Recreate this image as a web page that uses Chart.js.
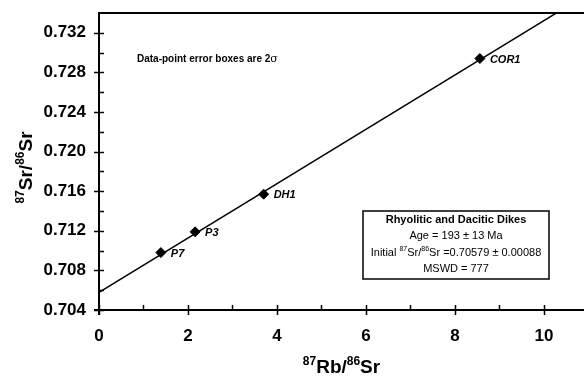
<!DOCTYPE html>
<html>
<head>
<meta charset="utf-8">
<script src="https://cdn.jsdelivr.net/npm/chart.js@4/dist/chart.umd.min.js"></script>
<style>
	body {margin: 0; background: #fff;}
	canvas {display: block;}
</style>
</head>
<body>
<canvas id="isochron" width="584" height="376"></canvas>
<script>
// Rb-Sr isochron, rhyolitic and dacitic dikes

var sampleNames = ['P7', 'P3', 'DH1', 'COR1'];
var rbSrValues = [1.39, 2.16, 3.70, 8.56];
var srSrValues = [0.7098, 0.7119, 0.7157, 0.7294];

// regression line end points
var isochronX = [0, 10.9];
var isochronY = [0.70579, 0.7357];

var xTickValues = [0, 1, 2, 3, 4, 5, 6, 7, 8, 9, 10];
var xTickLabels = ['0', '2', '4', '6', '8', '10'];
var yTickValues = [0.704, 0.706, 0.708, 0.710, 0.712, 0.714, 0.716, 0.718, 0.720, 0.722, 0.724, 0.726, 0.728, 0.730, 0.732];
var yTickLabels = ['0.704', '0.708', '0.712', '0.716', '0.720', '0.724', '0.728', '0.732'];

var boxLines = ['Rhyolitic and Dacitic Dikes', 'Age = 193 \u00b1 13 Ma', 'Initial {87}Sr/{86}Sr =0.70579 \u00b1 0.00088', 'MSWD = 777'];
var noteText = 'Data-point error boxes are 2';

var fontFamily = '"Liberation Sans", Arial, sans-serif';

// text with {..} parts drawn as superscript
function drawSupText(ctx, text, x, y, size, weight, align)
{
	var parts = [];
	var re = /\{([^}]*)\}|([^{]+)/g, m;
	while ((m = re.exec(text)) != null)
	{
		if (m[1] != undefined) {parts.push({t: m[1], sup: true})}
		else {parts.push({t: m[2], sup: false})}
	}

	var supSize = Math.round(size * 0.65);
	var width = 0;
	parts.forEach(function (p)
	{
		ctx.font = weight + ' ' + (p.sup ? supSize : size) + 'px ' + fontFamily;
		p.w = ctx.measureText(p.t).width;
		width += p.w;
	});

	var cx = x;
	if (align == 'center') {cx = x - width / 2}

	ctx.textAlign = 'left';
	ctx.textBaseline = 'alphabetic';
	parts.forEach(function (p)
	{
		ctx.font = weight + ' ' + (p.sup ? supSize : size) + 'px ' + fontFamily;
		ctx.fillText(p.t, cx, p.sup ? y - size * 0.42 : y);
		cx += p.w;
	});
}

var isochronDecor =
{
	id: 'isochronDecor',
	afterDraw: function (chart)
	{
		var ctx = chart.ctx;
		var area = chart.chartArea;
		var xs = chart.scales.x;
		var ys = chart.scales.y;

		ctx.save();
		ctx.strokeStyle = '#000';
		ctx.fillStyle = '#000';

		// axes and top border
		ctx.lineWidth = 2;
		ctx.beginPath();
		ctx.moveTo(area.left, area.top);
		ctx.lineTo(chart.width, area.top);
		ctx.moveTo(area.left, area.top - 1);
		ctx.lineTo(area.left, area.bottom + 5);
		ctx.moveTo(area.left - 5, area.bottom);
		ctx.lineTo(chart.width, area.bottom);
		ctx.stroke();

		// tick marks
		ctx.lineWidth = 1.5;
		ctx.beginPath();
		ys.ticks.forEach(function (tick)
		{
			var py = Math.round(ys.getPixelForValue(tick.value)) + 0.5;
			var major = Math.round((tick.value - 0.704) / 0.002) % 2 == 0;
			ctx.moveTo(major ? area.left - 5 : area.left, py);
			ctx.lineTo(area.left + 5, py);
		});
		xs.ticks.forEach(function (tick)
		{
			var px = Math.round(xs.getPixelForValue(tick.value)) + 0.5;
			var major = tick.value % 2 == 0;
			ctx.moveTo(px, area.bottom - 5);
			ctx.lineTo(px, major ? area.bottom + 5 : area.bottom);
		});
		ctx.stroke();

		// sample labels
		var meta = chart.getDatasetMeta(1);
		ctx.font = 'italic bold 11px ' + fontFamily;
		ctx.textAlign = 'left';
		ctx.textBaseline = 'middle';
		meta.data.forEach(function (pt, i)
		{
			ctx.fillText(sampleNames[i], pt.x + 10, pt.y + 1);
		});

		// note
		ctx.font = 'bold 10px ' + fontFamily;
		ctx.fillText(noteText, area.left + 38, 59);
		var nw = ctx.measureText(noteText).width;
		ctx.font = '11px "DejaVu Serif", serif';
		ctx.fillText('\u03c3', area.left + 38 + nw, 59);

		// result box
		var bx = 363, by = 211, bw = 186, bh = 68;
		ctx.fillStyle = '#fff';
		ctx.fillRect(bx, by, bw, bh);
		ctx.lineWidth = 1.5;
		ctx.strokeRect(bx, by, bw, bh);
		ctx.fillStyle = '#000';
		var lineY = [223, 239, 256, 272];
		boxLines.forEach(function (line, i)
		{
			drawSupText(ctx, line, bx + bw / 2, lineY[i], 11, i == 0 ? 'bold' : 'normal', 'center');
		});

		// axis titles
		drawSupText(ctx, '{87}Rb/{86}Sr', (area.left + chart.width) / 2, 373, 19, 'bold', 'center');
		ctx.save();
		ctx.translate(32, (area.top + area.bottom) / 2 + 6);
		ctx.rotate(-Math.PI / 2);
		drawSupText(ctx, '{87}Sr/{86}Sr', 0, 0, 19, 'bold', 'center');
		ctx.restore();

		ctx.restore();
	}
};

var ctx = document.getElementById('isochron');

window.myChart = new Chart(ctx,
{
	type: 'scatter',
	data:
	{
		datasets:
		[
			{
				label: 'isochron',
				data: isochronX.map(function (x, i) {return {x: x, y: isochronY[i]}}),
				showLine: true,
				borderColor: '#000',
				borderWidth: 1.5,
				pointRadius: 0
			},
			{
				label: 'samples',
				data: rbSrValues.map(function (x, i) {return {x: x, y: srSrValues[i]}}),
				pointStyle: 'rectRot',
				pointRadius: 5,
				backgroundColor: '#000',
				borderColor: '#000',
				borderWidth: 1
			}
		]
	},
	options:
	{
		responsive: false,
		animation: false,
		devicePixelRatio: 1,
		layout:
		{
			autoPadding: false,
			padding: {top: 13, right: 0, left: 0, bottom: 0}
		},
		plugins:
		{
			legend: {display: false},
			tooltip: {enabled: false}
		},
		scales:
		{
			x:
			{
				type: 'linear',
				min: 0,
				max: 10.9,
				grid: {display: false, drawTicks: false},
				border: {display: false},
				afterBuildTicks: function (scale)
				{
					scale.ticks = xTickValues.map(function (v) {return {value: v}});
				},
				afterFit: function (scale)
				{
					scale.height = 66;
					scale.paddingLeft = 0;
					scale.paddingRight = 0;
				},
				ticks:
				{
					color: '#000',
					padding: 16,
					maxRotation: 0,
					autoSkip: false,
					font: {family: fontFamily, size: 17, weight: 'bold'},
					callback: function (value)
					{
						return value % 2 == 0 ? xTickLabels[value / 2] : '';
					}
				}
			},
			y:
			{
				type: 'linear',
				min: 0.704,
				max: 0.734,
				grid: {display: false, drawTicks: false},
				border: {display: false},
				afterBuildTicks: function (scale)
				{
					scale.ticks = yTickValues.map(function (v) {return {value: v}});
				},
				afterFit: function (scale)
				{
					scale.width = 99;
					scale.paddingTop = 0;
					scale.paddingBottom = 0;
				},
				ticks:
				{
					color: '#000',
					padding: 13,
					autoSkip: false,
					font: {family: fontFamily, size: 17, weight: 'bold'},
					callback: function (value)
					{
						var n = Math.round((value - 0.704) / 0.002);
						return n % 2 == 0 ? yTickLabels[n / 2] : '';
					}
				}
			}
		}
	},
	plugins: [isochronDecor]
});
</script>
</body>
</html>
